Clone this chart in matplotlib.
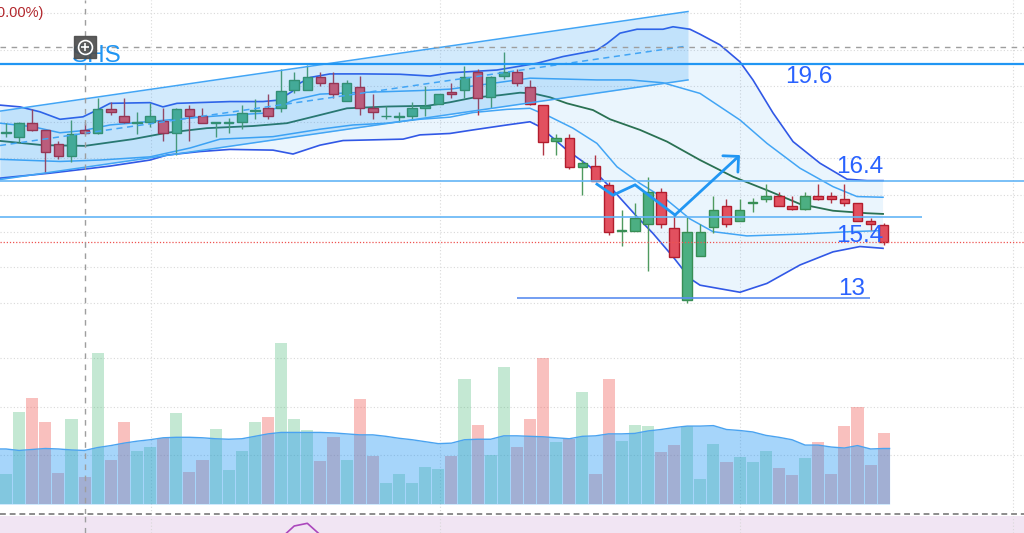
import numpy as np
import matplotlib
matplotlib.use("Agg")
import matplotlib.pyplot as plt
from matplotlib.lines import Line2D

plt.rcParams["font.family"] = ["Liberation Sans", "DejaVu Sans"]

# daily candles (price)
opens = [17.66, 17.53, 17.94, 17.73, 17.33, 17.01, 17.73, 17.64, 18.34, 18.13,
         17.94, 17.95, 18.00, 17.64, 18.34, 18.13, 17.93, 17.94, 17.95, 18.26,
         18.35, 18.35, 18.87, 18.87, 19.24, 19.05, 18.56, 18.96, 18.35, 18.12,
         18.10, 18.13, 18.35, 18.46, 18.82, 18.87, 19.37, 18.66, 19.27, 19.37,
         18.95, 18.44, 17.43, 17.52, 16.70, 16.72, 16.19, 14.88, 14.89, 15.08,
         16.00, 14.98, 12.93, 14.18, 15.00, 15.59, 15.18, 15.69, 15.78, 15.88,
         15.60, 15.50, 15.88, 15.88, 15.78, 15.67, 15.18, 15.06]
highs = [17.94, 17.96, 18.33, 17.74, 17.43, 18.02, 17.94, 18.63, 18.54, 18.63,
         18.25, 18.50, 18.37, 18.36, 18.44, 18.35, 17.96, 18.08, 18.44, 18.62,
         18.75, 19.45, 19.37, 19.57, 19.37, 19.37, 19.15, 19.26, 18.75, 18.42,
         18.25, 18.54, 18.98, 18.75, 19.05, 19.54, 19.45, 19.26, 19.95, 19.45,
         19.15, 18.44, 17.62, 17.62, 16.89, 17.03, 16.28, 15.48, 15.67, 16.42,
         16.09, 15.34, 15.27, 15.09, 15.88, 15.79, 15.79, 15.81, 16.21, 16.00,
         15.88, 16.00, 16.21, 16.00, 16.21, 15.67, 15.25, 15.11]
lows = [17.54, 17.40, 17.71, 16.52, 16.92, 16.84, 17.62, 17.62, 18.16, 17.94,
        17.62, 17.83, 17.44, 17.03, 17.44, 17.94, 17.53, 17.65, 17.77, 18.04,
        18.04, 18.25, 18.77, 18.86, 18.98, 18.63, 18.55, 18.16, 18.04, 18.04,
        17.97, 18.02, 18.13, 18.46, 18.65, 18.65, 18.16, 18.35, 19.17, 18.98,
        18.45, 17.03, 17.03, 16.63, 15.90, 16.29, 14.78, 14.47, 14.88, 13.77,
        14.98, 14.16, 12.87, 14.17, 14.82, 15.01, 15.17, 15.43, 15.70, 15.59,
        15.48, 15.49, 15.77, 15.69, 15.59, 15.17, 14.92, 14.49]
closes = [17.67, 17.94, 17.73, 17.12, 17.01, 17.62, 17.64, 18.34, 18.25, 17.95,
          17.96, 18.13, 17.64, 18.34, 18.13, 17.94, 17.95, 17.96, 18.23, 18.29,
          18.13, 18.84, 19.15, 19.24, 19.07, 18.74, 19.05, 18.35, 18.25, 18.14,
          18.12, 18.35, 18.42, 18.74, 18.74, 19.24, 18.65, 19.24, 19.37, 19.05,
          18.46, 17.41, 17.52, 16.70, 16.80, 16.30, 14.87, 14.90, 15.26, 16.00,
          15.08, 14.16, 14.87, 14.87, 15.48, 15.09, 15.48, 15.71, 15.88, 15.60,
          15.50, 15.88, 15.78, 15.78, 15.69, 15.18, 15.09, 14.59]

# volume (M) and its moving average
volume = [0.61, 1.89, 2.18, 1.68, 0.64, 1.75, 0.55, 3.11, 0.90, 1.68,
          1.09, 1.18, 1.35, 1.87, 0.66, 0.90, 1.55, 0.70, 1.09, 1.68,
          1.79, 3.30, 1.75, 1.52, 0.88, 1.38, 0.90, 2.16, 0.99, 0.44,
          0.61, 0.43, 0.77, 0.72, 0.99, 2.56, 1.62, 1.01, 2.82, 1.18,
          1.75, 2.99, 1.27, 1.33, 2.30, 0.62, 2.56, 1.30, 1.62, 1.60,
          1.06, 1.21, 1.60, 0.51, 1.23, 0.86, 0.96, 0.86, 1.09, 0.74,
          0.60, 0.94, 1.27, 0.62, 1.60, 1.99, 0.80, 1.45]
volume_ma = [1.13, 1.10, 1.12, 1.14, 1.13, 1.11, 1.10, 1.16, 1.20, 1.25,
             1.29, 1.32, 1.36, 1.37, 1.37, 1.36, 1.34, 1.33, 1.34, 1.39,
             1.44, 1.47, 1.47, 1.47, 1.47, 1.46, 1.44, 1.42, 1.42, 1.39,
             1.35, 1.32, 1.28, 1.24, 1.25, 1.32, 1.33, 1.33, 1.40, 1.40,
             1.39, 1.38, 1.36, 1.34, 1.39, 1.40, 1.44, 1.44, 1.45, 1.50,
             1.53, 1.57, 1.60, 1.60, 1.61, 1.53, 1.51, 1.48, 1.41, 1.37,
             1.32, 1.21, 1.21, 1.17, 1.15, 1.20, 1.13, 1.14]

# moving average (dark green)
ma_x = [-0.46, 2.82, 6.03, 9.69, 12.29, 15.34, 18.85, 21.45, 23.97, 26.03,
        29.08, 32.14, 33.89, 35.65, 37.71, 39.24, 40.23, 41.53, 42.82, 44.81,
        46.11, 48.40, 50.46, 52.98, 55.50, 58.09, 60.61, 63.13, 65.73, 66.95]
ma_y = [17.43, 17.31, 17.29, 17.48, 17.66, 17.79, 17.85, 17.93, 18.16, 18.35,
        18.40, 18.42, 18.52, 18.65, 18.72, 18.79, 18.77, 18.66, 18.49, 18.30,
        18.04, 17.74, 17.41, 16.89, 16.42, 16.04, 15.65, 15.46, 15.39, 15.37]

# outer bands
outer_up_x = [-0.46, 1.07, 2.60, 4.12, 5.88, 6.95, 7.94, 10.99, 11.98, 13.05,
              17.10, 19.62, 20.76, 21.83, 22.44, 23.21, 24.73, 27.25, 30.08, 32.37,
              33.89, 37.48, 40.53, 42.52, 45.11, 45.88, 46.87, 48.17, 50.15, 50.92,
              52.21, 52.98, 54.50, 56.03, 57.02, 58.55, 60.08, 62.14, 64.20, 65.73, 66.95]
outer_up_y = [18.44, 18.39, 18.25, 18.04, 18.11, 18.30, 18.49, 18.51, 18.39, 18.49,
              18.54, 18.54, 18.58, 18.82, 19.06, 19.22, 19.32, 19.32, 19.31, 19.26,
              19.35, 19.43, 19.62, 19.81, 19.99, 20.18, 20.47, 20.58, 20.58, 20.65,
              20.58, 20.44, 20.14, 19.66, 19.15, 18.22, 17.41, 16.80, 16.35, 16.31, 16.31]
outer_lo_x = [-0.46, 3.36, 7.94, 10.99, 12.29, 14.81, 17.10, 20.38, 21.91, 23.97,
              25.73, 30.31, 31.60, 33.89, 35.65, 38.24, 40.00, 40.76, 42.82, 44.58,
              46.34, 48.17, 49.39, 50.92, 52.21, 52.98, 56.03, 58.09, 60.61, 63.13,
              65.19, 66.95]
outer_lo_y = [16.38, 16.52, 16.72, 16.89, 17.03, 17.13, 17.19, 17.17, 17.06, 17.31,
              17.44, 17.48, 17.60, 17.64, 17.74, 17.88, 17.97, 17.83, 17.17, 16.70,
              16.04, 15.29, 14.82, 14.16, 13.55, 13.36, 13.16, 13.41, 13.93, 14.30,
              14.45, 14.40]

# inner bands
inner_up_x = [-0.46, 2.06, 4.12, 5.88, 7.94, 12.29, 14.81, 17.10, 19.62, 20.92,
              21.91, 23.97, 26.49, 29.08, 31.60, 33.89, 40.00, 45.11, 47.63, 50.15,
              52.98, 56.03, 58.09, 60.61, 63.13, 64.96, 66.95]
inner_up_y = [17.93, 17.83, 17.66, 17.72, 17.88, 18.02, 18.10, 18.16, 18.21, 18.40,
              18.58, 18.75, 18.79, 18.82, 18.85, 18.89, 19.20, 19.15, 19.15, 19.07,
              18.77, 18.02, 17.36, 16.66, 16.14, 15.86, 15.84]
inner_lo_x = [-0.46, 4.12, 7.18, 10.99, 14.05, 16.34, 20.38, 23.97, 26.49, 29.08,
              31.60, 33.89, 35.65, 38.24, 40.00, 41.53, 43.28, 45.11, 46.64, 48.40,
              50.46, 52.21, 53.97, 56.56, 60.61, 64.43, 66.95]
inner_lo_y = [16.91, 16.85, 16.89, 16.98, 17.23, 17.48, 17.55, 17.76, 17.88, 17.93,
              18.04, 18.10, 18.23, 18.32, 18.35, 18.11, 17.79, 17.36, 16.70, 16.23,
              15.76, 15.23, 14.87, 14.75, 14.80, 14.87, 14.90]

# regression channel
chan_x = [-0.46, 52.06]
chan_upper = [18.27, 21.08]
chan_mid = [17.30, 20.11]
chan_lower = [16.34, 19.15]

# projected path drawing
path_x = [45.11, 46.34, 48.02, 51.07, 56.03]
path_y = [16.21, 15.90, 16.19, 15.34, 17.03]

# horizontal levels
level_prices = [19.6, 16.30, 15.28, 12.99]
level_labels = ["19.6", "16.4", "15.4", "13"]

# lower pane oscillator (only the visible peak)
osc_x = [20, 21, 22, 23, 24, 25]
osc_y = [50, 57, 69, 71.7, 60, 52]

price_grid = [21.03, 20.00, 18.98, 17.96, 16.94, 15.90, 14.87, 13.86, 12.85]
volume_grid = [1, 2, 3]
date_grid = [11.07, 33.13, 56.03, 76.87]

idx = np.arange(len(opens))
o = np.array(opens)
c = np.array(closes)
up = c >= o

fig = plt.figure(figsize=(10.24, 5.33), dpi=100)
pb = 19 / 533
ax_v = fig.add_axes([0, pb, 1, 1 - pb])
ax = fig.add_axes([0, pb, 1, 1 - pb], sharex=ax_v)
ax_r = fig.add_axes([0, 0, 1, 17 / 533], sharex=ax_v)
ax.patch.set_visible(False)
ax_r.set_facecolor("#f1e5f3")
for a in (ax_v, ax, ax_r):
    a.set_xticks([])
    a.set_yticks([])
    for s in a.spines.values():
        s.set_visible(False)
ax_v.set_xlim(-0.458, 77.71)
ax_v.set_ylim(-0.205, 10.349)
ax.set_ylim(6.905, 21.405)
ax_r.set_ylim(62, 79)

grid_style = dict(color="#d9d9d9", lw=0.8, ls=(0, (1, 2)), zorder=0)
for g in price_grid:
    ax.axhline(g, **grid_style)
for g in volume_grid:
    ax_v.axhline(g, **grid_style)
for g in date_grid:
    ax_v.axvline(g, **grid_style)
    ax_r.axvline(g, **grid_style)

# volume
vcol = [(0.24, 0.71, 0.43, 0.30) if u else (0.94, 0.33, 0.31, 0.37) for u in up]
ax_v.bar(idx, volume, width=0.92, color=vcol, zorder=1)
vx = np.r_[-0.5, idx, idx[-1] + 0.45]
vy = np.r_[volume_ma[0], volume_ma, volume_ma[-1]]
ax_v.fill_between(vx, 0, vy, color="#2196f3", alpha=0.4, lw=0, zorder=2)
ax_v.plot(vx, vy, color="#4aa3f0", lw=1, zorder=2)

# bands
ax.fill(np.r_[outer_up_x, outer_lo_x[::-1]], np.r_[outer_up_y, outer_lo_y[::-1]],
        color="#2196f3", alpha=0.09, lw=0, zorder=1)
ax.plot(outer_up_x, outer_up_y, color="#3158e6", lw=1.2, zorder=2)
ax.plot(outer_lo_x, outer_lo_y, color="#3158e6", lw=1.2, zorder=2)
ax.plot(inner_up_x, inner_up_y, color="#42a5f5", lw=1.1, zorder=2)
ax.plot(inner_lo_x, inner_lo_y, color="#42a5f5", lw=1.1, zorder=2)
ax.plot(ma_x, ma_y, color="#2a7152", lw=1.3, zorder=2)

# candles
wick_col = np.where(up, "#4f9a5f", "#b03544")
ax.vlines(idx, lows, highs, colors=wick_col, lw=1, zorder=3)
body = np.maximum(np.abs(c - o), 0.025)
ax.bar(idx, body, bottom=np.minimum(o, c), width=0.72,
       color=np.where(up, "#4caf82", "#e2505f"),
       edgecolor=np.where(up, "#378e55", "#b21d2d"), lw=1, zorder=3.5)

# regression channel
ax.fill_between(chan_x, chan_lower, chan_upper, color="#2196f3", alpha=0.2, lw=0, zorder=4)
ax.plot(chan_x, chan_upper, color="#42a5f5", lw=1.1, zorder=5)
ax.plot(chan_x, chan_lower, color="#42a5f5", lw=1.1, zorder=5)
ax.plot(chan_x, chan_mid, color="#42a5f5", lw=1.1, ls=(0, (4, 3)), zorder=5)

# levels
ax.axhline(level_prices[0], color="#2196f3", lw=1.6, zorder=5)
ax.axhline(level_prices[1], color="#64b5f6", lw=1.2, zorder=5)
ax.hlines(level_prices[2], -0.46, 69.9, color="#64b5f6", lw=1.2, zorder=5)
ax.hlines(level_prices[3], 39.0, 65.95, color="#5b8ef0", lw=1.2, zorder=5)
ax.axhline(closes[-1], color="#ef5350", lw=0.9, ls=(0, (1, 1.5)), zorder=5)

lab = dict(fontsize=17.5, color="#2962ff", ha="left", va="baseline", zorder=7)
ax.text(59.47, 19.055, level_labels[0], **lab)
ax.text(63.4, 16.533, level_labels[1], **lab)
ax.text(63.4, 14.587, level_labels[2], **lab)
ax.text(63.5, 13.083, level_labels[3], **lab)

# zigzag with arrow
ax.plot(path_x[:-1], path_y[:-1], color="#2196f3", lw=2, zorder=6,
        solid_joinstyle="miter")
ax.annotate("", xy=(path_x[-1], path_y[-1]), xytext=(path_x[-2], path_y[-2]),
            arrowprops=dict(arrowstyle="->,head_length=0.8,head_width=0.8",
                            color="#2196f3", lw=2, shrinkA=0, shrinkB=0),
            zorder=6)

# crosshair
cross = dict(color="#9e9e9e", lw=1, ls=(0, (4, 4)), zorder=6)
ax.axvline(6.03, **cross)
ax_r.axvline(6.03, **cross)
ax.axhline(20.08, **cross)

ax.text(8.82, 19.664, "SHS", fontsize=17.5, color="#2196f3", ha="right",
        va="baseline", zorder=7)
ax.plot(6.03, 20.08, marker="s", ms=15.8, mfc="#4d4d4d", mec="#4d4d4d",
        alpha=0.92, zorder=8)
ax.plot(6.03, 20.08, marker="o", ms=10, mfc="none", mec="white", mew=1.2, zorder=9)
ax.plot(6.03, 20.08, marker="+", ms=6, mec="white", mew=1.2, zorder=9)

ax.text(2.9, 21.04, "(0.00%)", fontsize=10.5, color="#b2262c", ha="right",
        va="center", zorder=7)

# lower pane
ax_r.plot(osc_x, osc_y, color="#ab47bc", lw=1.2)
fig.add_artist(Line2D([0, 1], [pb, pb], transform=fig.transFigure,
                      color="#8c8c8c", lw=1.4, dashes=(3, 2)))

fig.savefig("out.png", dpi=100)
